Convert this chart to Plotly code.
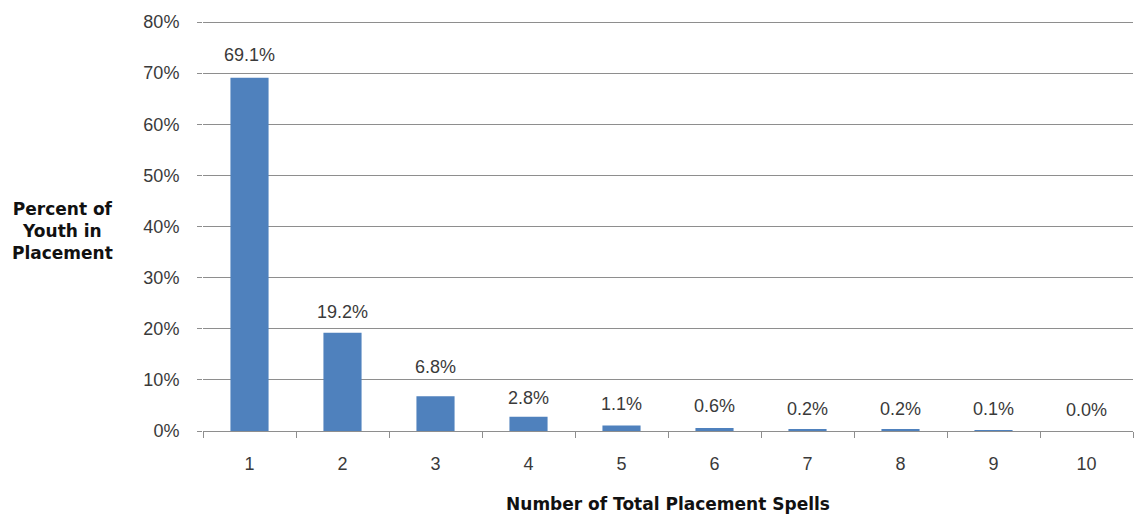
import plotly.graph_objects as go

# Distribution of youth by number of total placement spells
spells = ["1", "2", "3", "4", "5", "6", "7", "8", "9", "10"]
percent_youth = [69.1, 19.2, 6.8, 2.8, 1.1, 0.6, 0.2, 0.2, 0.1, 0.0]
y_ticks = [0, 10, 20, 30, 40, 50, 60, 70, 80]

# vertical offsets (px) of the value labels above each bar
label_shift = [23, 21, 29, 19, 21, 22, 21, 21, 21, 21]

BAR_COLOR = "#4F81BD"
GRID = "#8E8E8E"
TXT = "#3A3A3A"
FONT = "Liberation Sans, Arial, sans-serif"
TITLE_FONT = "DejaVu Sans, Verdana, sans-serif"

fig = go.Figure(
    go.Bar(
        x=spells,
        y=percent_youth,
        marker=dict(color=BAR_COLOR, line=dict(width=0)),
        hoverinfo="skip",
    )
)

# value labels, positioned by category index
for i, (val, dy) in enumerate(zip(percent_youth, label_shift)):
    fig.add_annotation(
        x=i, y=val, text=f"{val:.1f}%", showarrow=False,
        yshift=dy, font=dict(family=FONT, size=18, color=TXT),
    )

fig.update_layout(
    width=1143, height=514,
    margin=dict(l=203, r=10, t=20, b=83),
    paper_bgcolor="white", plot_bgcolor="white",
    bargap=0.59,
    showlegend=False,
    font=dict(family=FONT, size=18, color=TXT),
)

fig.update_xaxes(
    type="category",
    range=[-0.5, len(spells) - 0.5],
    automargin=False,
    tickson="boundaries",
    ticks="outside", ticklen=6, tickcolor=GRID, tickwidth=1,
    showline=True, linecolor=GRID, linewidth=1,
    showgrid=False,
    ticklabelstandoff=16,
    tickfont=dict(family=FONT, size=18, color=TXT),
    title=dict(
        text="<b>Number of Total Placement Spells</b>",
        font=dict(family=TITLE_FONT, size=17, color="#111111"),
        standoff=26,
    ),
)

fig.update_yaxes(
    range=[0, 80.4],
    automargin=False,
    tickvals=y_ticks,
    ticktext=[f"{v}%" for v in y_ticks],
    ticks="outside", ticklen=5, tickcolor=GRID, tickwidth=1,
    showline=False,
    showgrid=True, gridcolor=GRID, gridwidth=1,
    zeroline=False,
    ticklabelstandoff=14,
    tickfont=dict(family=FONT, size=18, color=TXT),
)

# Y-axis title, horizontal and stacked on three lines
fig.add_annotation(
    xref="paper", yref="paper", x=-0.151, y=0.487,
    xanchor="center", yanchor="middle",
    text="<b>Percent of<br>Youth in<br>Placement</b>",
    showarrow=False, align="center",
    font=dict(family=TITLE_FONT, size=17, color="#111111"),
)

fig.write_html("out.html")
